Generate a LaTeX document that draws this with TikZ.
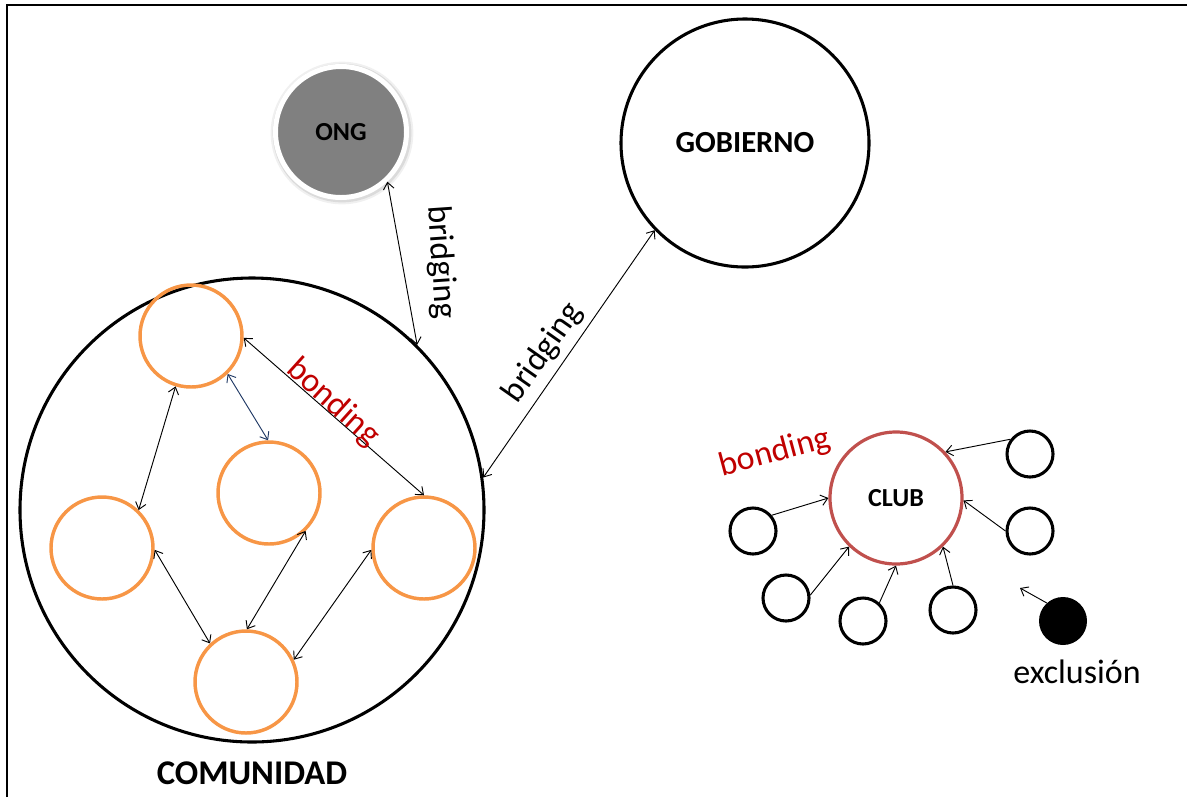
\documentclass[tikz,border=0pt]{standalone}
\usepackage{fontspec}
\setmainfont{Carlito}
\usetikzlibrary{arrows.meta}
\definecolor{orng}{HTML}{F79646}
\definecolor{redtxt}{HTML}{C00000}
\definecolor{clubred}{HTML}{C0504D}
\definecolor{navy}{HTML}{1F3864}
\definecolor{onggray}{HTML}{808080}
\begin{document}
\begin{tikzpicture}[x=0.75pt,y=-0.75pt,
  every node/.style={inner sep=0pt},
  big/.style={circle, draw=black, line width=2.3pt},
  orb/.style={circle, draw=orng, line width=2.6pt, minimum size=76.5pt},
  sm/.style={circle, draw=black, line width=2.3pt, minimum size=34.5pt},
  link/.style={{Straight Barb[length=5pt,width=8pt]}-{Straight Barb[length=5pt,width=8pt]}, line width=0.7pt},
  feed/.style={-{Straight Barb[length=5pt,width=8pt]}, line width=0.7pt},
  lbl/.style={font=\fontsize{25.5}{30}\selectfont},
  ttl/.style={font=\bfseries\fontsize{19.5}{24}\selectfont}]
\useasboundingbox (0,0) rectangle (1187,797);
\draw[line width=1.5pt] (7,797) -- (7,5) -- (1187,5);

% ONG
\node[circle, fill=black!6, minimum size=107pt] (ongshadow) at (342,133) {};
\node[circle, fill=black!14, minimum size=104pt] (ongshadow2) at (342,133) {};
\node[circle, fill=onggray, draw=white, line width=3.75pt, minimum size=98.25pt, ttl] (ong) at (341,132) {ONG};

% GOBIERNO
\node[big, minimum size=186pt, font=\bfseries\fontsize{23}{28}\selectfont] (gob) at (745,143) {GOBIERNO};

% COMUNIDAD
\node[big, minimum size=348pt] (com) at (252,510) {};
\node[font=\bfseries\fontsize{26}{30}\selectfont] (comlbl) at (252,773) {COMUNIDAD};

\node[orb] (A) at (191,336) {};
\node[orb] (B) at (269,493) {};
\node[orb] (C) at (102,548) {};
\node[orb] (D) at (424,548) {};
\node[orb] (E) at (246,682) {};

\draw[link] (A.-2) -- (D.90);
\draw[link] (A.-107) -- (C.46);
\draw[link, color=navy] (A.-46) -- (B.91);
\draw[link] (C.-2) -- (E.133);
\draw[link] (B.-46) -- (E.89);
\draw[link] (D.182) -- (E.25);

\node[lbl, text=redtxt, rotate=-42] (bond1) at (333,403) {bonding};

% bridging
\draw[link] (ong.-47) -- (com.45);
\draw[link] (com.8.5) -- (gob.224);
\node[lbl, rotate=-86] (brid1) at (441,262) {bridging};
\node[lbl, rotate=55] (brid2) at (543,353) {bridging};

% CLUB
\node[circle, draw=clubred, line width=2.4pt, minimum size=99pt, ttl] (club) at (896,498) {CLUB};
\node[lbl, text=redtxt, rotate=15] (bond2) at (775,453) {bonding};

\node[sm] (s1) at (1030,454) {};
\node[sm] (s2) at (1030,531) {};
\node[sm] (s3) at (753,531) {};
\node[sm] (s4) at (786,598) {};
\node[sm] (s5) at (863,621) {};
\node[sm] (s6) at (953,610) {};
\node[circle, fill=black, minimum size=36pt] (ex) at (1063,621) {};
\coordinate (exend) at (1020,588);

\draw[feed] (s1.143) -- (club.43);
\draw[feed] (s2.180) -- (club.-2);
\draw[feed] (s3.40) -- (club.180);
\draw[feed] (s4.7) -- (club.226);
\draw[feed] (s5.48) -- (club.270);
\draw[feed] (s6.90) -- (club.-46);
\draw[feed] (ex.132) -- (exend);

\node[lbl] (excl) at (1077,672) {exclusión};
\end{tikzpicture}
\end{document}
